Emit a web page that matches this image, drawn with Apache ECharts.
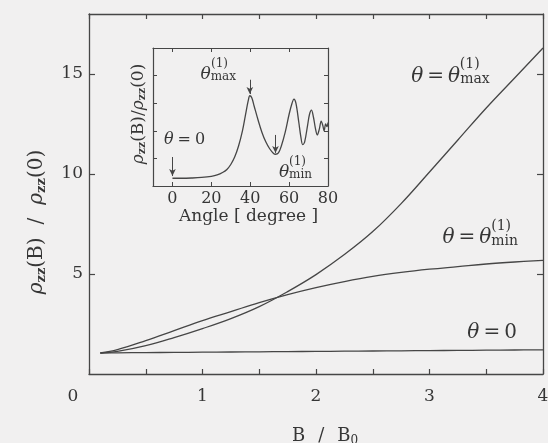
<!DOCTYPE html>
<html>
<head>
<meta charset="utf-8">
<script src="https://cdn.jsdelivr.net/npm/echarts@6/dist/echarts.min.js"></script>
<style>
  html, body { margin: 0; padding: 0; background: #f1f0f0; }
  #chart { width: 548px; height: 443px; }
</style>
</head>
<body>
<div id="chart"></div>
<script>
// Magnetoresistance vs field for three field angles
const fieldB = [0.1, 0.25, 0.5, 0.75, 1.0, 1.25, 1.5, 1.75, 2.0, 2.25, 2.5, 2.75, 3.0, 3.25, 3.5, 3.75, 4.0];
const rhoThetaMax = [1.05, 1.13, 1.42, 1.82, 2.27, 2.77, 3.37, 4.12, 4.97, 5.97, 7.12, 8.52, 10.1, 11.7, 13.3, 14.8, 16.3];
const rhoThetaMin = [1.05, 1.22, 1.67, 2.17, 2.67, 3.12, 3.57, 3.97, 4.32, 4.62, 4.88, 5.08, 5.24, 5.37, 5.5, 5.6, 5.68];
const rhoThetaZero = [1.05, 1.06, 1.07, 1.08, 1.09, 1.1, 1.11, 1.12, 1.13, 1.14, 1.15, 1.16, 1.17, 1.18, 1.19, 1.2, 1.21];

// Angle dependence at fixed field (inset)
const angleDeg = [0, 5, 10, 15, 20, 23, 26, 28, 30, 32, 34, 36, 37.5, 39, 39.8, 40.8, 42, 44, 46, 48, 50, 52, 53, 54.5, 56, 58, 60, 61.5, 62.5, 63.5, 65, 66, 67, 68, 69.5, 70.5, 71.5, 72.5, 73.5, 74.5, 75.5, 76.5, 77.3, 78, 78.8, 79.5, 80];
const rhoAngle = [0.28, 0.28, 0.29, 0.31, 0.35, 0.4, 0.5, 0.6, 0.78, 1.05, 1.45, 2.0, 2.55, 3.1, 3.27, 3.2, 2.9, 2.4, 1.95, 1.6, 1.35, 1.18, 1.15, 1.2, 1.45, 1.95, 2.6, 3.0, 3.15, 3.0, 2.3, 1.8, 1.5, 1.6, 2.2, 2.6, 2.75, 2.5, 2.1, 1.85, 2.05, 2.35, 2.2, 2.0, 2.25, 2.15, 2.3];

// Tick positions
const mainXLabels = [0, 1, 2, 3, 4];
const mainYTicks = [5, 10, 15];
const insetXTicks = [0, 20, 40, 60, 80];

const INK = '#363636';
const LINE = '#464646';
const SERIF = '"DejaVu Serif", "Liberation Serif", serif';

const zip = (xs, ys) => xs.map((x, i) => [x, ys[i]]);

// rich styles for θ = θ^(1)_sub annotations; the superscript sits on its own
// thin line above and is padded so that it starts where the subscript starts
function thetaRich(size, supPadMax, supPadMin) {
  const small = Math.round(size * 0.72);
  return {
    it: { fontFamily: SERIF, fontStyle: 'italic', fontSize: size, color: INK, lineHeight: size },
    rm: { fontFamily: SERIF, fontSize: size, color: INK, lineHeight: size },
    eq: { fontFamily: SERIF, fontSize: size, color: INK, lineHeight: size, padding: [0, 4, 0, 4] },
    sub: { fontFamily: SERIF, fontSize: small, color: INK, lineHeight: small - 4, verticalAlign: 'bottom' },
    supx: { fontFamily: SERIF, fontSize: small, color: INK, lineHeight: 4, padding: [0, supPadMax, 0, 0] },
    supn: { fontFamily: SERIF, fontSize: small, color: INK, lineHeight: 4, padding: [0, supPadMin, 0, 0] }
  };
}

function note(coord, text, size) {
  return {
    coord: coord,
    symbol: 'circle',
    symbolSize: 0,
    label: {
      show: true,
      position: 'inside',
      align: 'right',
      verticalAlign: 'middle',
      formatter: text,
      rich: thetaRich(size, Math.round(size * 0.48), Math.round(size * 0.33))
    }
  };
}

const axisLineStyle = { color: LINE, width: 1.3 };

const option = {
  backgroundColor: '#f1f0f0',
  animation: false,
  grid: [
    { left: 89, top: 14, width: 454, height: 360, outerBoundsMode: 'none', containLabel: false },
    { left: 153, top: 48, width: 175, height: 138, outerBoundsMode: 'none', containLabel: false,
      show: true, backgroundColor: '#f1f0f0', borderWidth: 0 }
  ],
  xAxis: [
    {
      type: 'value', gridIndex: 0, min: 0, max: 4, interval: 0.5,
      axisLine: { show: true, onZero: false, lineStyle: axisLineStyle },
      axisTick: { show: true, inside: true, length: 5, lineStyle: { color: LINE, width: 1.2 } },
      splitLine: { show: false },
      axisLabel: {
        customValues: mainXLabels,
        margin: 14,
        fontFamily: SERIF, fontSize: 17, color: INK,
        formatter: v => v === 0 ? '{z|0}' : String(v),
        rich: { z: { fontFamily: SERIF, fontSize: 17, color: INK, padding: [0, 32, 0, 0] } }
      },
      name: '{n|B}{sl|/}{n|B}{s|0}',
      nameLocation: 'middle',
      nameGap: 51,
      nameTextStyle: {
        padding: [0, 0, 0, 18],
        rich: {
          n: { fontFamily: SERIF, fontSize: 18, color: INK, lineHeight: 22 },
          sl: { fontFamily: SERIF, fontSize: 18, color: INK, lineHeight: 22, padding: [0, 13, 0, 13] },
          s: { fontFamily: SERIF, fontSize: 12, color: INK, lineHeight: 12, verticalAlign: 'bottom' }
        }
      }
    },
    {
      type: 'value', gridIndex: 0, min: 0, max: 4, interval: 0.5, position: 'top',
      axisLine: { show: true, onZero: false, lineStyle: axisLineStyle },
      axisTick: { show: true, inside: true, length: 5, lineStyle: { color: LINE, width: 1.2 } },
      axisLabel: { show: false },
      splitLine: { show: false }
    },
    {
      type: 'value', gridIndex: 1, min: -10, max: 80,
      axisLine: { show: true, onZero: false, lineStyle: { color: LINE, width: 1.2 } },
      axisTick: { show: true, inside: true, length: 4, customValues: insetXTicks, lineStyle: { color: LINE, width: 1 } },
      splitLine: { show: false },
      axisLabel: { customValues: insetXTicks, margin: 5, fontFamily: SERIF, fontSize: 16, color: INK },
      name: 'Angle [ degree ]',
      nameLocation: 'middle',
      nameGap: 22,
      nameTextStyle: { fontFamily: SERIF, fontSize: 17, color: INK, padding: [0, 0, 0, 16] }
    },
    {
      type: 'value', gridIndex: 1, min: -10, max: 80, position: 'top',
      axisLine: { show: true, onZero: false, lineStyle: { color: LINE, width: 1.2 } },
      axisTick: { show: true, inside: true, length: 4, customValues: insetXTicks, lineStyle: { color: LINE, width: 1 } },
      axisLabel: { show: false },
      splitLine: { show: false }
    }
  ],
  yAxis: [
    {
      type: 'value', gridIndex: 0, min: 0, max: 18,
      axisLine: { show: true, onZero: false, lineStyle: axisLineStyle },
      axisTick: { show: true, inside: true, length: 6, customValues: mainYTicks, lineStyle: { color: LINE, width: 1.2 } },
      splitLine: { show: false },
      axisLabel: { customValues: mainYTicks, margin: 6, fontFamily: SERIF, fontSize: 17, color: INK },
      name: '{r|ρ}{s|zz}{n|(B)}{sl|/}{r|ρ}{s|zz}{n|(0)}',
      nameLocation: 'middle',
      nameGap: 41,
      nameRotate: 90,
      nameTextStyle: {
        padding: [0, 56, 0, 0],
        rich: {
          r: { fontFamily: SERIF, fontStyle: 'italic', fontSize: 20, color: INK, lineHeight: 23 },
          n: { fontFamily: SERIF, fontSize: 20, color: INK, lineHeight: 23 },
          sl: { fontFamily: SERIF, fontSize: 20, color: INK, lineHeight: 23, padding: [0, 13, 0, 13] },
          s: { fontFamily: SERIF, fontWeight: 'bold', fontSize: 13, color: INK, lineHeight: 12, verticalAlign: 'bottom' }
        }
      }
    },
    {
      type: 'value', gridIndex: 0, min: 0, max: 18, position: 'right',
      axisLine: { show: true, onZero: false, lineStyle: axisLineStyle },
      axisTick: { show: true, inside: true, length: 6, customValues: mainYTicks, lineStyle: { color: LINE, width: 1.2 } },
      axisLabel: { show: false },
      splitLine: { show: false }
    },
    {
      type: 'value', gridIndex: 1, min: 0, max: 5, interval: 1,
      axisLine: { show: true, onZero: false, lineStyle: { color: LINE, width: 1.2 } },
      axisTick: { show: true, inside: true, length: 4, lineStyle: { color: LINE, width: 1 } },
      axisLabel: { show: false },
      splitLine: { show: false },
      name: '{r|ρ}{s|zz}{n|(B)/}{r|ρ}{s|zz}{n|(0)}',
      nameLocation: 'middle',
      nameGap: 5,
      nameRotate: 90,
      nameTextStyle: {
        padding: [0, 0, 0, 6],
        rich: {
          r: { fontFamily: SERIF, fontStyle: 'italic', fontSize: 17, color: INK, lineHeight: 19 },
          n: { fontFamily: SERIF, fontSize: 17, color: INK, lineHeight: 19 },
          s: { fontFamily: SERIF, fontWeight: 'bold', fontSize: 11, color: INK, lineHeight: 10, verticalAlign: 'bottom' }
        }
      }
    },
    {
      type: 'value', gridIndex: 1, min: 0, max: 5, interval: 1, position: 'right',
      axisLine: { show: true, onZero: false, lineStyle: { color: LINE, width: 1.2 } },
      axisTick: { show: true, inside: true, length: 4, lineStyle: { color: LINE, width: 1 } },
      axisLabel: { show: false },
      splitLine: { show: false }
    }
  ],
  series: [
    {
      name: 'theta_max', type: 'line', xAxisIndex: 0, yAxisIndex: 0,
      data: zip(fieldB, rhoThetaMax), smooth: 0.4, showSymbol: false,
      lineStyle: { color: LINE, width: 1.3 },
      markPoint: {
        silent: true,
        data: [note([3.53, 14.97], '{supx|(1)}\n{it|θ}{eq|=}{it|θ}{sub|max}', 20)]
      }
    },
    {
      name: 'theta_min', type: 'line', xAxisIndex: 0, yAxisIndex: 0,
      data: zip(fieldB, rhoThetaMin), smooth: 0.4, showSymbol: false,
      lineStyle: { color: LINE, width: 1.3 },
      markPoint: {
        silent: true,
        data: [note([3.78, 6.9], '{supn|(1)}\n{it|θ}{eq|=}{it|θ}{sub|min}', 20)]
      }
    },
    {
      name: 'theta_zero', type: 'line', xAxisIndex: 0, yAxisIndex: 0,
      data: zip(fieldB, rhoThetaZero), smooth: 0.4, showSymbol: false,
      lineStyle: { color: LINE, width: 1.3 },
      markPoint: {
        silent: true,
        data: [note([3.77, 2.08], '{it|θ}{eq|=}{rm|0}', 20)]
      }
    },
    {
      name: 'angle', type: 'line', xAxisIndex: 2, yAxisIndex: 2,
      data: zip(angleDeg, rhoAngle), smooth: 0.35, showSymbol: false,
      lineStyle: { color: LINE, width: 1.3 },
      markPoint: {
        silent: true,
        data: [
          note([32.7, 4.12], '{supx|(1)}\n{it|θ}{sub|max}', 17),
          note([16.8, 1.66], '{it|θ}{eq|=}{rm|0}', 16),
          note([71.8, 0.57], '{supn|(1)}\n{it|θ}{sub|min}', 17)
        ]
      },
      markLine: {
        silent: true,
        symbol: ['none', 'arrow'],
        symbolSize: [5, 7],
        label: { show: false },
        lineStyle: { color: LINE, width: 1, type: 'solid' },
        data: [
          [{ coord: [0, 1.05] }, { coord: [0, 0.36] }],
          [{ coord: [39.8, 3.85] }, { coord: [39.8, 3.33] }],
          [{ coord: [53, 1.85] }, { coord: [53, 1.2] }]
        ]
      }
    }
  ]
};

const chart = echarts.init(document.getElementById('chart'), null, { renderer: 'canvas' });
chart.setOption(option);
</script>
</body>
</html>
